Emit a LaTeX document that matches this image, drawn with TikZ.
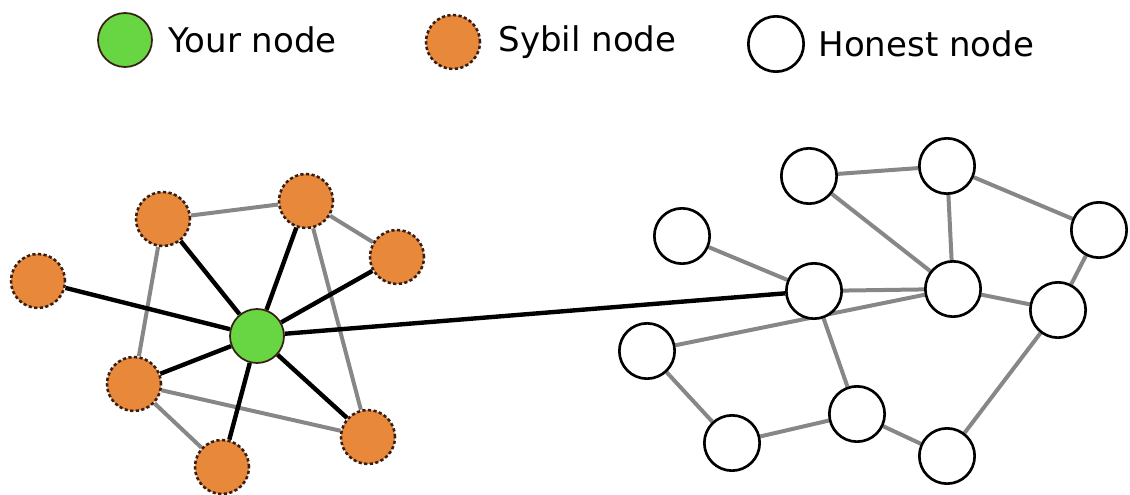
\documentclass[tikz,border=0pt]{standalone}
\usepackage{fontspec}
\setmainfont{DejaVu Sans}
\usetikzlibrary{backgrounds}

\definecolor{yourgreen}{RGB}{103,214,66}
\definecolor{sybilorange}{RGB}{232,136,58}
\definecolor{edgegray}{RGB}{135,135,135}
\definecolor{rimbrown}{RGB}{55,30,20}

\tikzset{every picture/.style={line width=0.75pt}}

\begin{document}
\begin{tikzpicture}[x=0.75pt,y=0.75pt,yscale=-1,xscale=1,
    yournode/.style={circle,draw=rimbrown,fill=yourgreen,line width=1.3pt,minimum size=40.5pt,inner sep=0pt},
    sybilnode/.style={circle,draw=rimbrown,fill=sybilorange,line width=1.9pt,dash pattern={on 2.4pt off 1.8pt},minimum size=40.5pt,inner sep=0pt},
    honestnode/.style={circle,draw=black,fill=white,line width=2pt,minimum size=41.5pt,inner sep=0pt},
    legendtext/.style={anchor=west,inner sep=0.75pt,font=\fontsize{25.5pt}{30pt}\selectfont},
    sybiledge/.style={draw=edgegray,line width=3pt},
    honestedge/.style={draw=edgegray,line width=3pt},
    attackedge/.style={draw=black,line width=3.3pt}]
\useasboundingbox (0,0) rectangle (1130,495);

% Legend
\node [yournode] (lyour) at (125,40) {};
\node [legendtext] (tyour) at (167,40) {Your node};
\node [sybilnode] (lsybil) at (453,42) {};
\node [legendtext] (tsybil) at (497,42) {Sybil node};
\node [honestnode] (lhonest) at (776,44) {};
\node [legendtext] (thonest) at (817,44) {Honest node};

% Your node and the Sybil region
\node [yournode] (you) at (257,336) {};
\node [sybilnode] (s1) at (38,281) {};
\node [sybilnode] (s2) at (163,219) {};
\node [sybilnode] (s3) at (306,201) {};
\node [sybilnode] (s4) at (397,257) {};
\node [sybilnode] (s5) at (134,384) {};
\node [sybilnode] (s6) at (222,467) {};
\node [sybilnode] (s7) at (368,437) {};

% Honest region
\node [honestnode] (h1) at (809,176) {};
\node [honestnode] (h2) at (947,166) {};
\node [honestnode] (h3) at (682,236) {};
\node [honestnode] (h4) at (1099,230) {};
\node [honestnode] (h5) at (814,291) {};
\node [honestnode] (h6) at (953,289) {};
\node [honestnode] (h7) at (1058,310) {};
\node [honestnode] (h8) at (647,351) {};
\node [honestnode] (h9) at (857,414) {};
\node [honestnode] (h10) at (732,443) {};
\node [honestnode] (h11) at (947,456) {};

\begin{pgfonlayer}{background}
% Sybil links
\draw [sybiledge] (s2) -- (s3);
\draw [sybiledge] (s3) -- (s4);
\draw [sybiledge] (s2) -- (s5);
\draw [sybiledge] (s3) -- (s7);
\draw [sybiledge] (s5) -- (s7);
\draw [sybiledge] (s5) -- (s6);
% Honest links
\draw [honestedge] (h1) -- (h2);
\draw [honestedge] (h1) -- (h6);
\draw [honestedge] (h2) -- (h6);
\draw [honestedge] (h2) -- (h4);
\draw [honestedge] (h3) -- (h5);
\draw [honestedge] (h5) -- (h6);
\draw [honestedge] (h5) -- (h9);
\draw [honestedge] (h6) -- (h7);
\draw [honestedge] (h4) -- (h7);
\draw [honestedge] (h7) -- (h11);
\draw [honestedge] (h8) -- (h6);
\draw [honestedge] (h8) -- (h10);
\draw [honestedge] (h10) -- (h9);
\draw [honestedge] (h9) -- (h11);
% Links of your node
\foreach \s in {s1,s2,s3,s4,s5,s6,s7,h5}
  \draw [attackedge] (you) -- (\s);
\end{pgfonlayer}
\end{tikzpicture}
\end{document}
